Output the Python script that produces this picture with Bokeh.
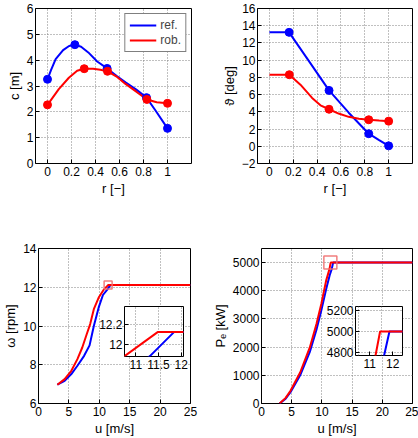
from bokeh.plotting import figure
from bokeh.layouts import row, column
from bokeh.models import FixedTicker, CustomJSTickFormatter
from bokeh.embed import file_html
from bokeh.resources import INLINE

# ---------------- data ----------------
# top-left: chord c [m] vs r [-]
c_ref_r = [0.0, 0.228, 0.497, 0.825, 1.0]
c_ref_v = [3.26, 4.60, 3.68, 2.55, 1.36]
c_rob_r = [0.0, 0.306, 0.5, 0.828, 1.0]
c_rob_v = [2.27, 3.67, 3.57, 2.48, 2.33]
c_ref_curve_r = [0.0, 0.03, 0.068, 0.13, 0.18, 0.228, 0.28, 0.34, 0.414, 0.497, 0.58, 0.65, 0.74, 0.825, 0.9, 1.0]
c_ref_curve_v = [3.26, 3.62, 4.04, 4.39, 4.55, 4.60, 4.52, 4.30, 3.95, 3.68, 3.38, 3.14, 2.86, 2.55, 2.05, 1.36]
c_rob_curve_r = [0.0, 0.094, 0.178, 0.247, 0.306, 0.38, 0.44, 0.5, 0.58, 0.65, 0.74, 0.828, 0.91, 1.0]
c_rob_curve_v = [2.27, 2.88, 3.32, 3.59, 3.67, 3.67, 3.63, 3.57, 3.35, 3.08, 2.78, 2.48, 2.37, 2.33]

# top-right: twist [deg] vs r [-]
t_ref_r = [0.165, 0.5, 0.833, 1.0]
t_ref_v = [13.23, 6.49, 1.46, 0.05]
t_rob_r = [0.167, 0.5, 0.833, 1.0]
t_rob_v = [8.31, 4.30, 3.08, 2.92]
t_ref_curve_r = [0.0, 0.165, 0.33, 0.5, 0.665, 0.833, 0.92, 1.0]
t_ref_curve_v = [13.23, 13.23, 9.92, 6.49, 3.90, 1.46, 0.72, 0.05]
t_rob_curve_r = [0.0, 0.167, 0.26, 0.358, 0.428, 0.5, 0.58, 0.665, 0.75, 0.833, 0.92, 1.0]
t_rob_curve_v = [8.31, 8.31, 7.15, 5.62, 4.76, 4.30, 3.80, 3.42, 3.20, 3.08, 2.98, 2.92]

# bottom-left: rotor speed [rpm] vs wind speed [m/s]
w_ref_u = [3.1, 4.3, 5.4, 6.4, 7.5, 8.4, 9.1, 9.9, 10.6, 11.31, 11.84, 25.0]
w_ref_v = [6.97, 7.17, 7.52, 7.95, 8.46, 9.0, 10.0, 10.96, 11.6, 11.88, 12.12, 12.12]
w_rob_u = [3.1, 4.3, 5.4, 6.4, 7.2, 7.9, 8.5, 9.1, 9.9, 10.75, 11.48, 25.0]
w_rob_v = [6.97, 7.26, 7.69, 8.29, 8.89, 9.55, 10.1, 10.87, 11.47, 11.88, 12.12, 12.12]
w_box_u = [11.45]
w_box_v = [12.12]

# bottom-right: electrical power [kW] vs wind speed [m/s]
p_ref_u = [3.0, 4.0, 4.8, 6.4, 8.0, 9.1, 9.9, 10.7, 11.3, 11.625, 11.86, 25.0]
p_ref_v = [0, 170, 400, 1000, 1830, 2620, 3300, 4050, 4560, 4768, 5000, 5000]
p_rob_u = [3.0, 4.0, 4.8, 6.4, 8.0, 9.1, 9.9, 10.7, 11.25, 11.45, 25.0]
p_rob_v = [0, 200, 450, 1100, 1990, 2820, 3530, 4360, 4768, 5000, 5000]
p_box_u = [11.4]
p_box_v = [5000]

BLUE = "#0000ff"
RED = "#ff0000"
BOXC = "#f07070"
FONT = "Liberation Sans"

fmt = CustomJSTickFormatter(code="return tick < 0 ? '\\u2212' + String(-tick) : String(tick);")


def make(width, height, xr, yr, xticks, yticks, xlabel, ylabel, mb, xgrid=None, styles=None,
         tick_fs="12px", label_fs="13px", inset=False):
    kw = {}
    if styles is not None:
        kw["styles"] = styles
    p = figure(width=width, height=height, x_range=xr, y_range=yr,
               output_backend="svg", toolbar_location=None,
               min_border_left=mb[0], min_border_right=mb[1],
               min_border_top=mb[2], min_border_bottom=mb[3], **kw)
    p.xaxis.ticker = FixedTicker(ticks=xticks)
    p.yaxis.ticker = FixedTicker(ticks=yticks)
    p.xgrid.ticker = FixedTicker(ticks=xgrid if xgrid is not None else xticks)
    p.ygrid.ticker = FixedTicker(ticks=yticks)
    for ax in (p.xaxis[0], p.yaxis[0]):
        ax.formatter = fmt
        ax.axis_line_color = None
        ax.major_tick_in = 4
        ax.major_tick_out = 0
        ax.minor_tick_line_color = None
        ax.major_tick_line_color = "black"
        ax.major_label_text_font = FONT
        ax.major_label_text_font_size = tick_fs
        ax.major_label_text_color = "black"
        ax.major_label_standoff = 2
        ax.axis_label_text_font = FONT
        ax.axis_label_text_font_size = label_fs
        ax.axis_label_text_font_style = "normal"
        ax.axis_label_text_color = "black"
        ax.axis_label_standoff = 2
    p.xaxis.major_label_standoff = 3
    if xlabel:
        p.xaxis.axis_label = xlabel
    if ylabel:
        p.yaxis.axis_label = ylabel
    for g in (p.xgrid[0], p.ygrid[0]):
        g.grid_line_color = "#808080"
        g.grid_line_dash = "1 2"
        g.grid_line_width = 1
    p.outline_line_color = "black"
    p.outline_line_width = 1
    p.outline_line_alpha = 1
    p.background_fill_color = "white"
    if inset:
        p.border_fill_color = None
    else:
        p.border_fill_color = "white"
    return p


# ---- top-left ----
f1 = make(209, 220, (-0.1, 1.2), (0, 6), [0, 0.2, 0.4, 0.6, 0.8, 1], [0, 1, 2, 3, 4, 5, 6],
          "r [\u2212]", "c [m]", (35, 18, 8, 57))
f1.line(c_ref_curve_r, c_ref_curve_v, color=BLUE, line_width=2, legend_label="ref.")
f1.line(c_rob_curve_r, c_rob_curve_v, color=RED, line_width=2, legend_label="rob.")
f1.scatter(c_ref_r, c_ref_v, size=8, color=BLUE)
f1.scatter(c_rob_r, c_rob_v, size=8, color=RED)
lg = f1.legend[0]
lg.location = "top_right"
lg.margin = 5
lg.padding = 4
lg.spacing = 1
lg.glyph_width = 27
lg.glyph_height = 14
lg.label_height = 14
lg.label_standoff = 4
lg.label_text_font = FONT
lg.label_text_font_size = "12px"
lg.border_line_color = "black"
lg.border_line_width = 1
lg.background_fill_alpha = 1

# ---- top-right ----
f2 = make(209, 220, (-0.1, 1.2), (-2, 16), [0, 0.2, 0.4, 0.6, 0.8, 1], list(range(-2, 17, 2)),
          "r [\u2212]", "\u03d1 [deg]", (48, 6, 8, 57))
f2.line(t_ref_curve_r, t_ref_curve_v, color=BLUE, line_width=2)
f2.line(t_rob_curve_r, t_rob_curve_v, color=RED, line_width=2)
f2.scatter(t_ref_r, t_ref_v, size=8, color=BLUE)
f2.scatter(t_rob_r, t_rob_v, size=8, color=RED)

# ---- bottom-left ----
f3 = make(209, 218, (0, 25), (6, 14), [0, 5, 10, 15, 20, 25], [6, 8, 10, 12, 14],
          "u [m/s]", "\u03c9 [rpm]", (35, 19, 28, 35))
f3.line(w_ref_u, w_ref_v, color=BLUE, line_width=2)
f3.line(w_rob_u, w_rob_v, color=RED, line_width=2)
f3.scatter(w_box_u, w_box_v, marker="square", size=8, fill_color=None,
           line_color=BOXC, line_width=1.5, line_alpha=0.9)

# ---- bottom-right ----
f4 = make(209, 218, (0, 25), (0, 5500), [0, 5, 10, 15, 20, 25], [0, 1000, 2000, 3000, 4000, 5000],
          "u [m/s]", "P\u2091 [kW]", (48, 6, 28, 35))
f4.line(p_ref_u, p_ref_v, color=BLUE, line_width=2)
f4.line(p_rob_u, p_rob_v, color=RED, line_width=2)
f4.scatter(p_box_u, p_box_v, marker="square", size=13, fill_color=None,
           line_color=BOXC, line_width=1.5, line_alpha=0.9)

# ---- inset in bottom-left ----
i1 = make(101, 72, (10.75, 12.05), (11.876, 12.376), [11, 11.5, 12], [12, 12.2],
          None, None, (31, 10, 2, 20),
          styles={"position": "absolute", "left": "92px", "top": "304px"}, inset=True)
i1.line(w_ref_u, w_ref_v, color=BLUE, line_width=2)
i1.line(w_rob_u, w_rob_v, color=RED, line_width=2)

# ---- inset in bottom-right ----
i2 = make(89, 71, (10.375, 12.43), (4768, 5242), [11, 12], [4800, 5000, 5200],
          None, None, (32, 8, 2, 20), xgrid=[10.5, 11.5],
          styles={"position": "absolute", "left": "323px", "top": "304px"}, inset=True)
i2.line(p_ref_u, p_ref_v, color=BLUE, line_width=2)
i2.line(p_rob_u, p_rob_v, color=RED, line_width=2)

root = column(row(f1, f2), row(f3, f4), i1, i2, styles={"position": "relative"})

open("out.html", "w").write(file_html(root, INLINE))
